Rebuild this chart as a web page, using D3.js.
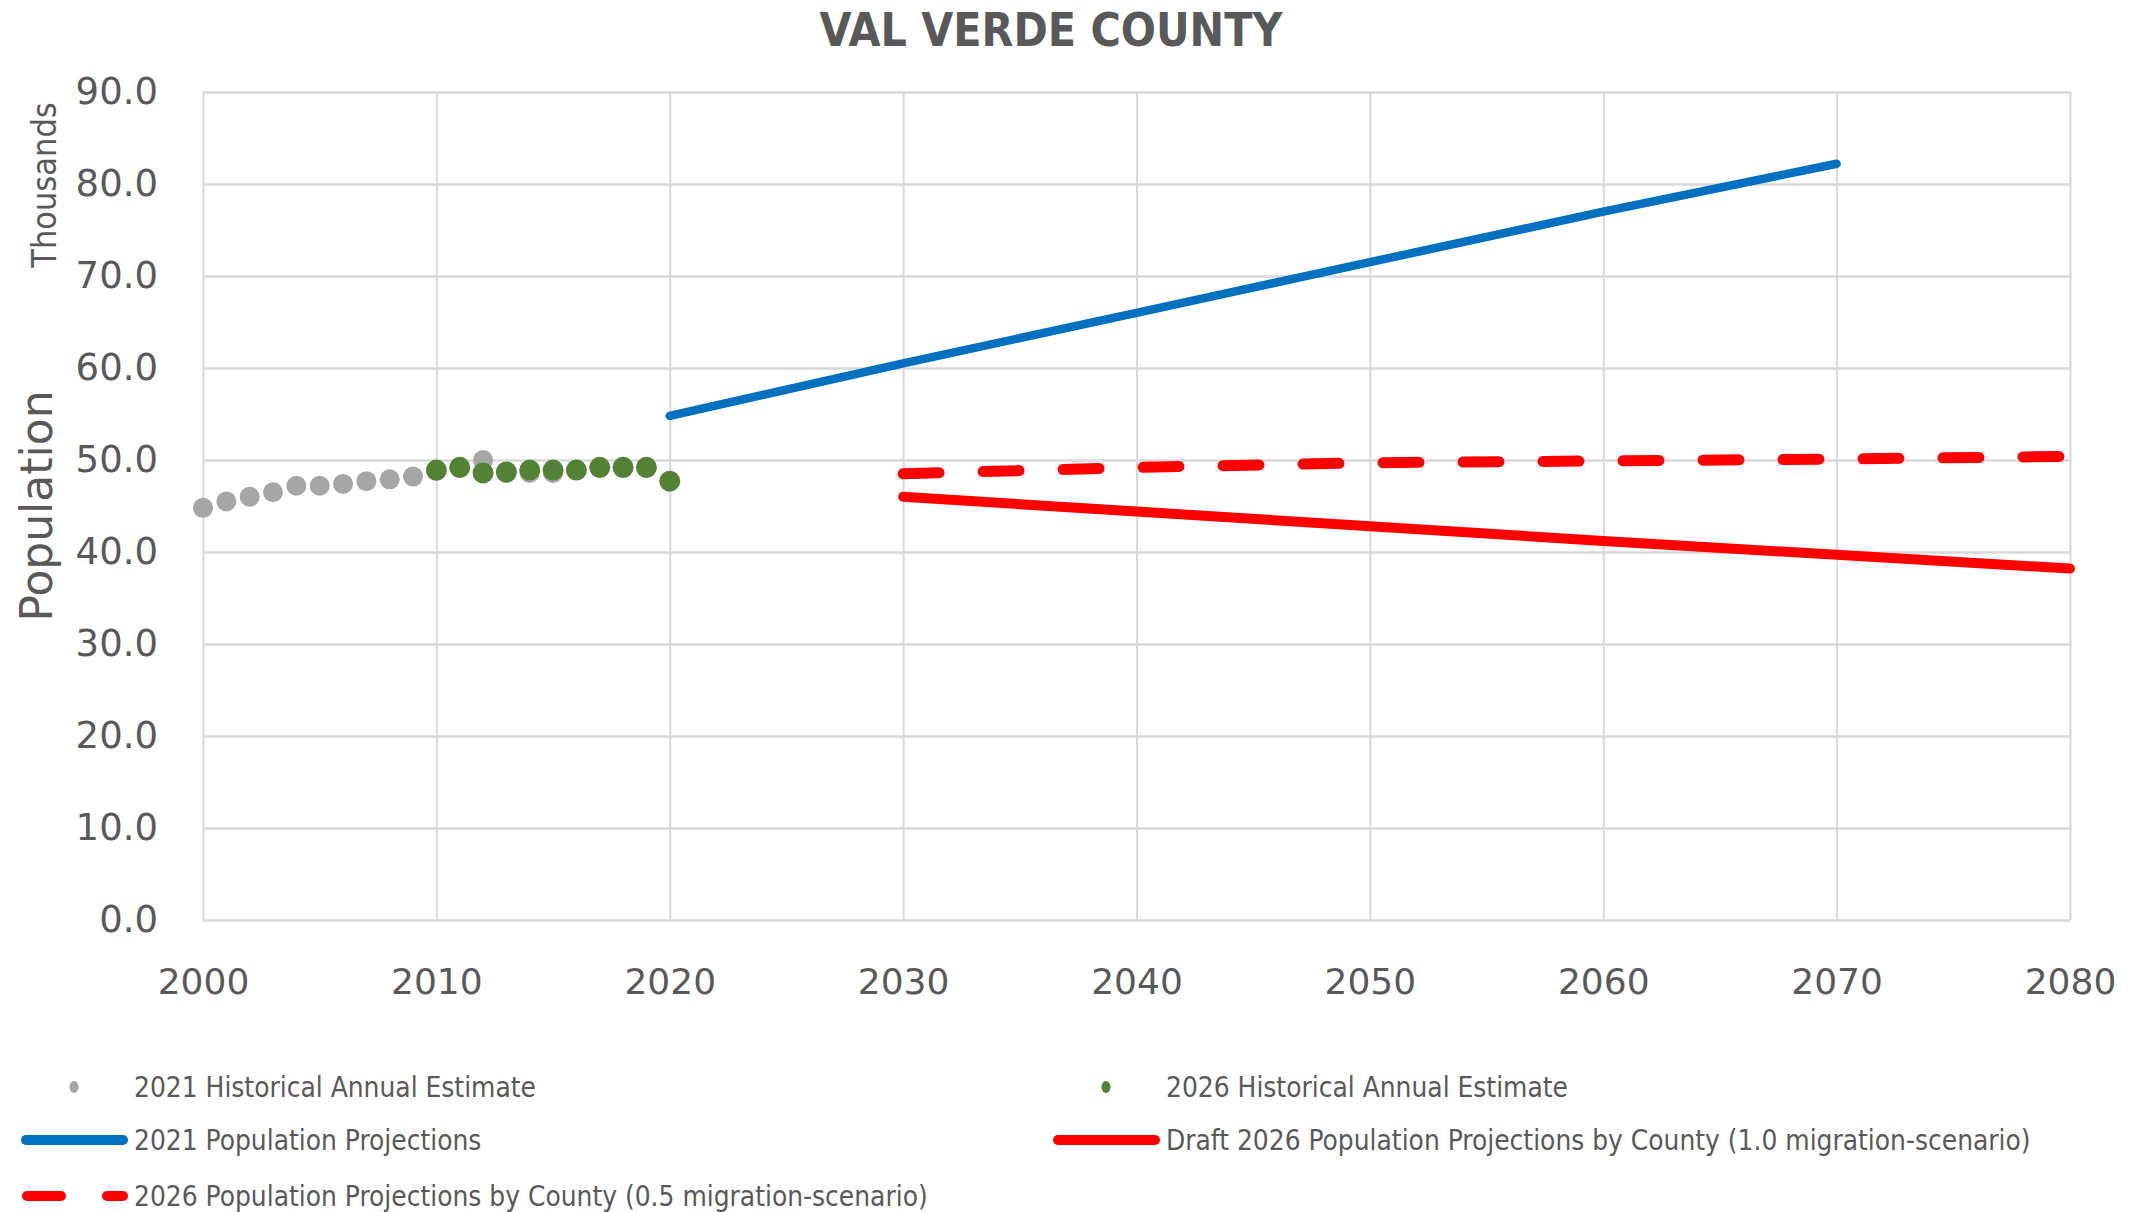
<!DOCTYPE html>
<html>
<head>
<meta charset="utf-8">
<script src="https://cdn.jsdelivr.net/npm/d3@7"></script>
<style>
  body { margin: 0; background: #fff; }
  text { fill: #595959; }
</style>
</head>
<body>
<div id="chart"></div>
<script>
// historical annual estimates (thousands)
const hist2021Years = d3.range(2000, 2020)
const hist2021Values = [44.8, 45.5, 46.0, 46.5, 47.2, 47.2, 47.4, 47.7, 47.9, 48.2,
                        48.8, 49.1, 50.0, 48.6, 48.6, 48.6, 48.9, 49.1, 49.1, 49.1]
const hist2026Years = d3.range(2010, 2021)
const hist2026Values = [48.9, 49.2, 48.6, 48.7, 48.9, 48.9, 48.9, 49.2, 49.2, 49.2, 47.7]

// projections
const proj2021Years = [2020, 2030, 2040, 2050, 2060, 2070]
const proj2021Values = [54.8, 60.5, 66.0, 71.5, 77.0, 82.2]
const proj2026Years = [2030, 2040, 2050, 2060, 2070, 2080]
const proj2026Half = [48.5, 49.2, 49.7, 49.9, 50.1, 50.4]   // 0.5 migration
const proj2026Full = [46.0, 44.4, 42.8, 41.2, 39.7, 38.2]   // 1.0 migration

const xTicks = d3.range(2000, 2081, 10)
const yTicks = d3.range(0, 91, 10)

const width = 2141, height = 1212
const plotLeft = 203, plotRight = 2070, plotTop = 92, plotBottom = 920

const svg = d3.select("#chart").append("svg")
    .attr("width", width)
    .attr("height", height)

const x = d3.scaleLinear().domain([2000, 2080]).range([plotLeft, plotRight])
const y = d3.scaleLinear().domain([0, 90]).range([plotBottom, plotTop])

// gridlines
svg.append("g")
    .attr("transform", `translate(0,${plotBottom})`)
    .call(d3.axisBottom(x).tickValues(xTicks).tickSize(-(plotBottom - plotTop)).tickFormat(""))
    .call(g => g.select(".domain").remove())
    .call(g => g.selectAll("line").attr("stroke", "#d9d9d9").attr("stroke-width", 2))

svg.append("g")
    .attr("transform", `translate(${plotLeft},0)`)
    .call(d3.axisLeft(y).tickValues(yTicks).tickSize(-(plotRight - plotLeft)).tickFormat(""))
    .call(g => g.select(".domain").remove())
    .call(g => g.selectAll("line").attr("stroke", "#d9d9d9").attr("stroke-width", 2.5))

// axis labels
svg.append("g")
    .attr("transform", `translate(0,${plotBottom})`)
    .call(d3.axisBottom(x).tickValues(xTicks).tickSize(0).tickPadding(48).tickFormat(d3.format("d")))
    .call(g => g.select(".domain").remove())
    .call(g => g.selectAll("text")
        .attr("font-family", "DejaVu Sans").attr("font-size", 36).attr("fill", "#595959"))

svg.append("g")
    .attr("transform", `translate(${plotLeft},0)`)
    .call(d3.axisLeft(y).tickValues(yTicks).tickSize(0).tickPadding(45).tickFormat(d3.format(".1f")))
    .call(g => g.select(".domain").remove())
    .call(g => g.selectAll("text")
        .attr("font-family", "DejaVu Sans").attr("font-size", 37).attr("fill", "#595959"))

// titles
svg.append("text")
    .attr("x", 1051).attr("y", 46)
    .attr("text-anchor", "middle")
    .attr("font-family", "Liberation Sans Narrow, DejaVu Sans Condensed, sans-serif")
    .attr("font-weight", "bold")
    .attr("font-size", 46)
    .text("VAL VERDE COUNTY")

svg.append("text")
    .attr("transform", "translate(52,506) rotate(-90)")
    .attr("text-anchor", "middle")
    .attr("font-family", "DejaVu Sans")
    .attr("font-size", 44)
    .text("Population")

svg.append("text")
    .attr("transform", "translate(56,185) rotate(-90)")
    .attr("text-anchor", "middle")
    .attr("font-family", "Liberation Sans Narrow, DejaVu Sans Condensed, sans-serif")
    .attr("font-size", 34)
    .text("Thousands")

const line = d3.line().x(d => x(d[0])).y(d => y(d[1]))

// projection lines
svg.append("path")
    .datum(d3.zip(proj2021Years, proj2021Values))
    .attr("d", line)
    .attr("fill", "none").attr("stroke", "#0070c0")
    .attr("stroke-width", 8.5).attr("stroke-linecap", "round")

svg.append("path")
    .datum(d3.zip(proj2026Years, proj2026Full))
    .attr("d", line)
    .attr("fill", "none").attr("stroke", "#ff0000")
    .attr("stroke-width", 10).attr("stroke-linecap", "round")

svg.append("path")
    .datum(d3.zip(proj2026Years, proj2026Half))
    .attr("d", line)
    .attr("fill", "none").attr("stroke", "#ff0000")
    .attr("stroke-width", 11).attr("stroke-linecap", "round")
    .attr("stroke-dasharray", "36,44")

// historical points
svg.append("g").selectAll("circle")
    .data(d3.zip(hist2021Years, hist2021Values))
    .join("circle")
    .attr("cx", d => x(d[0])).attr("cy", d => y(d[1]))
    .attr("r", 10).attr("fill", "#a6a6a6")

svg.append("g").selectAll("circle")
    .data(d3.zip(hist2026Years, hist2026Values))
    .join("circle")
    .attr("cx", d => x(d[0])).attr("cy", d => y(d[1]))
    .attr("r", 10.5).attr("fill", "#548235")

// legend
const legendItems = [
    {label: "2021 Historical Annual Estimate", type: "dot", color: "#a6a6a6", x: 22, y: 1087},
    {label: "2026 Historical Annual Estimate", type: "dot", color: "#548235", x: 1054, y: 1087},
    {label: "2021 Population Projections", type: "line", color: "#0070c0", x: 22, y: 1140},
    {label: "Draft 2026 Population Projections by County (1.0 migration-scenario)", type: "line", color: "#ff0000", x: 1054, y: 1140},
    {label: "2026 Population Projections by County (0.5 migration-scenario)", type: "dash", color: "#ff0000", x: 22, y: 1196}
]

const lg = svg.append("g").selectAll("g")
    .data(legendItems)
    .join("g")
    .attr("transform", d => `translate(${d.x},${d.y})`)

lg.filter(d => d.type === "dot").append("ellipse")
    .attr("cx", 52).attr("cy", 0).attr("rx", 4.5).attr("ry", 6)
    .attr("fill", d => d.color)

lg.filter(d => d.type === "line").append("line")
    .attr("x1", 4).attr("x2", 101).attr("y1", 0).attr("y2", 0)
    .attr("stroke", d => d.color).attr("stroke-width", 10).attr("stroke-linecap", "round")

lg.filter(d => d.type === "dash").append("line")
    .attr("x1", 5).attr("x2", 101).attr("y1", 0).attr("y2", 0)
    .attr("stroke", d => d.color).attr("stroke-width", 10).attr("stroke-linecap", "round")
    .attr("stroke-dasharray", "34,46")

lg.append("text")
    .attr("x", 112).attr("y", 10)
    .attr("font-family", "Liberation Sans Narrow, DejaVu Sans Condensed, sans-serif")
    .attr("font-size", 27.8)
    .text(d => d.label)
</script>
</body>
</html>
